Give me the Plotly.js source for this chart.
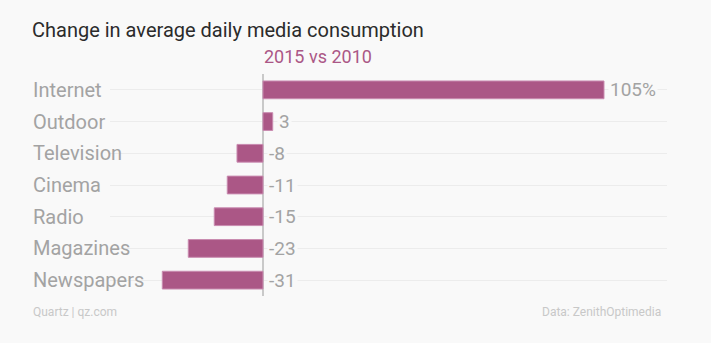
<!DOCTYPE html>
<html>
<head>
<meta charset="utf-8">
<script src="https://cdn.plot.ly/plotly-3.0.1.min.js"></script>
<style>
  html, body { margin: 0; padding: 0; background: #f9f9f9; }
  #chart { width: 711px; height: 343px; }
</style>
</head>
<body>
<div id="chart"></div>
<script>
const categories = ["Internet", "Outdoor", "Television", "Cinema", "Radio", "Magazines", "Newspapers"];
const changes = [105, 3, -8, -11, -15, -23, -31];
const valueLabels = ["105%", "3", "-8", "-11", "-15", "-23", "-31"];

const titleText = "Change in average daily media consumption";
const subtitleText = "2015 vs 2010";
const sourceLeft = "Quartz | qz.com";
const sourceRight = "Data: ZenithOptimedia";

const BG = "#f9f9f9";
const BAR = "#ab5786";
const FONT = "Roboto, 'Noto Sans', Arial, sans-serif";

const trace = {
  type: "bar",
  orientation: "h",
  x: changes,
  y: categories,
  width: 0.56,
  marker: { color: BAR, line: { color: "#c98bb0", width: 1 } },
  hoverinfo: "skip"
};

const annotations = [];
categories.forEach((c, i) => {
  annotations.push({
    xref: "paper", yref: "y", x: -0.138, y: c, xshift: -2,
    text: c, showarrow: false, xanchor: "left", yanchor: "middle",
    font: { family: FONT, size: 20, color: "#a3a3a3" }
  });
  annotations.push({
    xref: "x", yref: "y", x: Math.max(changes[i], 0), y: c,
    text: valueLabels[i], showarrow: false, xanchor: "left", yanchor: "middle",
    xshift: 4, bgcolor: BG, borderpad: 1,
    font: { family: FONT, size: 19, color: "#a3a3a3" }
  });
});
annotations.push({
  xref: "x", yref: "paper", x: 0, y: 1.077, xshift: -1,
  text: subtitleText, showarrow: false, xanchor: "left", yanchor: "middle",
  font: { family: FONT, size: 18, color: "#ab5786" }
});
annotations.push({
  xref: "paper", yref: "paper", x: -0.138, y: -0.072, xshift: -2,
  text: sourceLeft, showarrow: false, xanchor: "left", yanchor: "middle",
  font: { family: FONT, size: 12, color: "#c8c8c8" }
});
annotations.push({
  xref: "paper", yref: "paper", x: 0.9925, y: -0.072,
  text: sourceRight, showarrow: false, xanchor: "right", yanchor: "middle",
  font: { family: FONT, size: 12, color: "#c8c8c8" }
});

const layout = {
  width: 711, height: 343,
  paper_bgcolor: BG, plot_bgcolor: BG,
  margin: { l: 110, r: 44, t: 74, b: 47, pad: 0 },
  showlegend: false,
  title: {
    text: titleText, xref: "container", yref: "container",
    x: 32 / 711, xanchor: "left", y: 1 - 30 / 343, yanchor: "middle",
    font: { family: FONT, size: 20, color: "#2b2b2b" }
  },
  xaxis: {
    range: [-47.1, 124.4], showgrid: false, showticklabels: false, ticks: "",
    zeroline: true, zerolinecolor: "#c9c9c9", zerolinewidth: 2, fixedrange: true
  },
  yaxis: {
    type: "category", categoryorder: "array", categoryarray: categories,
    range: [6.5, -0.5], showticklabels: false, ticks: "",
    showgrid: true, gridcolor: "#ececec", gridwidth: 1, zeroline: false, fixedrange: true
  },
  annotations: annotations
};

Plotly.newPlot("chart", [trace], layout, { staticPlot: true, displayModeBar: false });
</script>
</body>
</html>
